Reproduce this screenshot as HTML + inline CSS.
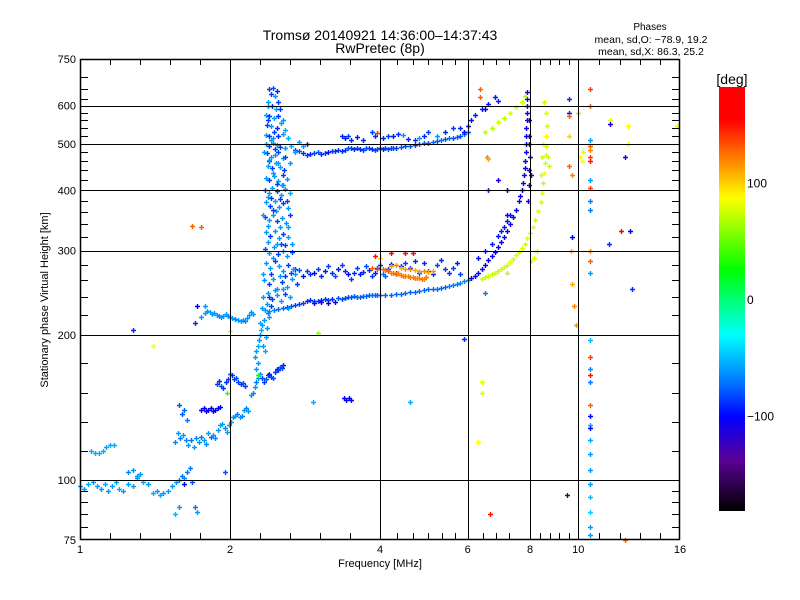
<!DOCTYPE html>
<html><head><meta charset="utf-8"><style>
html,body{margin:0;padding:0;background:#fff;}
svg{display:block;font-family:"Liberation Sans","DejaVu Sans",sans-serif;}
</style></head><body>
<svg id="chart" width="800" height="600" viewBox="0 0 800 600">
<rect x="0" y="0" width="800" height="600" fill="#fff"/>
<g id="marks"></g>
<g id="axes"></g>
<text x="380" y="40" text-anchor="middle" font-size="14">Tromsø 20140921 14:36:00–14:37:43</text>
<text x="380" y="53" text-anchor="middle" font-size="14">RwPretec (8p)</text>
<text x="650" y="30" text-anchor="middle" font-size="10">Phases</text>
<text x="651" y="43" text-anchor="middle" font-size="10.5">mean, sd,O: −78.9, 19.2</text>
<text x="651" y="55" text-anchor="middle" font-size="10.5">mean, sd,X:  86.3, 25.2</text>
<text x="380" y="567" text-anchor="middle" font-size="11">Frequency [MHz]</text>
<text transform="translate(48,300) rotate(-90)" text-anchor="middle" font-size="11">Stationary phase Virtual Height [km]</text>
<defs><linearGradient id="cbg" x1="0" y1="1" x2="0" y2="0"></linearGradient></defs>
<rect x="719" y="87" width="26" height="424" fill="url(#cbg)"/>
<text x="732" y="84" text-anchor="middle" font-size="14">[deg]</text>
<g id="cbticks"></g>
</svg>
<script>
// ---- axis data ----
const xTickLabels = [1, 2, 4, 6, 8, 10, 16];
const xGridValues = [2, 4, 6, 8, 10];
const xMinorTicks = [1.149,1.32,1.516,1.741,2.297,2.639,3.031,3.482,4.33,4.66,5.0,5.33,5.66,6.45,6.83,7.26,8.38,8.76,9.15,9.57,11.0,12.1,13.3,14.6];
const yTickLabels = [75, 100, 200, 300, 400, 500, 600, 750];
const yGridValues = [100, 200, 300, 400, 500, 600];
const yMinorTicks = [80,85,90,95,115,132,152,175,220,240,260,280,320,340,360,380,420,440,460,480,520,540,560,580,620,650,690];
const cbLabels = [100, 0, -100];

// ---- data series: [frequency MHz, virtual height km, phase deg] ----
const eLayerLow = [[1.00,97,-60],[1.02,96,-60],[1.04,98,-55],[1.06,99,-60],[1.08,97,-60],[1.10,96,-60],[1.12,98,-55],[1.14,95,-60],[1.16,97,-60],[1.18,99,-60],[1.20,96,-55],[1.22,95,-60],[1.25,98,-60],[1.28,97,-60],[1.30,101,-60],[1.32,103,-60],[1.34,99,-55],[1.37,98,-60],[1.40,94,-55],[1.43,95,-60],[1.45,93,-55],[1.47,94,-60],[1.50,95,-60],[1.53,97,-60],[1.56,99,-60],[1.58,100,-65],[1.60,102,-70],[1.62,101,-65],[1.64,104,-70],[1.66,106,-70],[1.68,99,-80],[1.70,88,-70],[1.72,86,-60],[1.05,115,-55],[1.07,114,-55],[1.09,114,-55],[1.11,115,-55],[1.13,117,-55],[1.15,118,-55],[1.17,118,-55],[1.25,104,-65],[1.28,105,-60],[1.30,102,-60]];
const eLayerRise = [[1.55,120,-65],[1.57,125,-60],[1.59,122,-70],[1.61,124,-60],[1.63,121,-65],[1.65,118,-60],[1.67,121,-70],[1.69,117,-60],[1.71,122,-65],[1.73,120,-60],[1.75,123,-70],[1.77,121,-60],[1.79,119,-65],[1.81,125,-60],[1.83,123,-75],[1.85,124,-60],[1.87,122,-65],[1.89,127,-60],[1.91,130,-55],[1.93,131,-60],[1.95,128,-65],[1.97,126,-60],[1.99,130,-55],[2.01,132,-60],[2.03,135,-65],[2.05,136,-60],[2.07,137,-70],[2.09,135,-60],[2.11,136,-65],[2.13,140,-60],[2.15,141,-65],[2.17,139,-60],[1.75,140,-105],[1.77,141,-105],[1.79,139,-100],[1.81,140,-105],[1.83,141,-100],[1.85,139,-105],[1.87,140,-100],[1.89,141,-105],[1.91,142,-100],[1.60,137,-80],[1.62,140,-75],[1.64,133,-70],[1.58,143,-80],[1.88,158,-85],[1.90,161,-90],[1.92,157,-80],[1.94,155,-85],[1.96,160,-90],[1.98,162,-85],[2.00,166,-80],[2.02,165,-90],[2.04,162,-85],[2.06,163,-80],[2.08,160,-85],[2.10,158,-90],[2.12,159,-80],[2.14,157,-85],[2.20,150,-60],[2.22,152,-65],[2.24,156,-60],[2.26,160,-70],[2.28,163,-60],[2.30,166,-65],[2.32,163,-85],[2.34,160,-85],[2.36,162,-80],[2.38,165,-85],[2.40,166,-90],[2.42,164,-85],[2.44,163,-80],[2.46,168,-85],[2.48,170,-90],[2.50,169,-85],[2.52,172,-80],[2.54,171,-85],[2.56,173,-90],[2.25,180,-60],[2.26,185,-60],[2.28,190,-55],[2.29,195,-60],[2.30,200,-60],[2.31,205,-55],[2.32,210,-60],[2.33,190,-60],[2.35,185,-55],[2.36,198,-60],[2.37,207,-60],[2.34,215,-60],[2.38,222,-70],[2.40,218,-60],[2.28,175,-60],[2.30,212,-55],[2.26,170,-60],[3.38,148,-100],[3.42,147,-100],[3.46,148,-105],[3.50,147,-100]];
const strayLow = [[2.93,145,-55],[4.6,145,-55],[1.28,205,-90],[1.40,190,85],[2.0,204,95],[3.0,202,60],[1.68,338,130],[1.75,335,130],[2.28,165,30],[1.97,152,40],[1.95,104,-80],[1.58,88,-60],[1.55,85,-50],[1.62,98,-100]];
const fLowerTrace = [[1.75,218,-60],[1.78,222,-60],[1.80,225,-60],[1.82,223,-55],[1.84,221,-60],[1.86,222,-60],[1.88,220,-60],[1.90,219,-65],[1.92,218,-60],[1.94,219,-60],[1.96,221,-60],[1.98,219,-65],[2.00,218,-60],[2.02,217,-60],[2.05,216,-65],[2.08,215,-60],[2.10,214,-60],[2.12,215,-60],[2.14,214,-65],[2.16,217,-60],[2.18,220,-60],[2.20,223,-60],[2.22,221,-60],[1.70,212,-90],[1.72,230,-100],[1.78,230,-60],[2.35,226,-60],[2.40,225,-65],[2.45,226,-70],[2.50,227,-75],[2.55,228,-75],[2.60,229,-80],[2.65,230,-80],[2.70,231,-85],[2.75,232,-85],[2.80,233,-85],[2.85,236,-90],[2.90,237,-90],[2.95,236,-85],[3.00,236,-85],[3.05,237,-90],[3.10,238,-85],[3.15,237,-85],[3.20,238,-90],[3.30,239,-80],[3.35,238,-80],[3.40,239,-80],[3.45,240,-80],[3.50,240,-80],[3.55,241,-75],[3.60,240,-75],[3.65,240,-75],[3.70,241,-75],[3.75,241,-75],[3.80,242,-75],[3.85,242,-75],[3.90,242,-75],[3.95,242,-75],[4.00,243,-75],[4.10,243,-75],[4.20,243,-75],[4.30,244,-75],[4.40,244,-75],[4.50,245,-75],[4.60,246,-75],[4.70,246,-75],[4.80,247,-75],[4.90,248,-75],[5.00,249,-75],[5.10,249,-75],[5.20,250,-75],[5.30,251,-75],[5.40,252,-75],[5.50,253,-70],[5.60,254,-70],[5.70,256,-70],[5.80,257,-65],[5.90,259,-65],[6.00,261,-65],[2.95,233,-105],[3.05,234,-105],[3.15,233,-105],[3.25,234,-105]];
const fUpperScatter = [[2.65,270,-85],[2.70,275,-90],[2.75,273,-80],[2.80,266,-95],[2.85,272,-85],[2.90,268,-90],[2.95,270,-100],[3.00,275,-85],[3.05,265,-90],[3.10,272,-95],[3.15,278,-85],[3.20,270,-90],[3.25,266,-80],[3.30,275,-95],[3.35,280,-85],[3.40,272,-90],[3.45,268,-100],[3.50,262,-85],[3.55,270,-90],[3.60,276,-85],[3.65,268,-95],[3.70,271,-90],[3.75,278,-80],[3.80,273,-90],[3.85,265,-85],[3.90,270,-95],[3.95,276,-85],[4.00,280,-90],[4.05,268,-70],[4.10,266,-75],[4.15,274,-85],[4.20,281,-90],[4.30,270,-80],[4.40,278,-90],[4.50,283,-85],[4.60,276,-95],[4.70,285,-90],[4.80,270,-80],[4.90,282,-90],[5.00,272,-85],[5.10,268,-90],[5.20,280,-85],[5.30,286,-90],[5.40,275,-85],[5.50,270,-90],[5.60,276,-85],[5.70,282,-95],[5.80,268,-85]];
const orangeSegment = [[3.85,276,130],[3.95,274,135],[4.05,274,130],[4.10,273,125],[4.15,272,130],[4.20,270,120],[4.25,270,125],[4.30,268,130],[4.35,269,120],[4.40,267,125],[4.45,266,120],[4.50,266,125],[4.55,265,120],[4.60,264,125],[4.65,264,120],[4.70,263,125],[4.75,263,120],[4.80,263,120],[4.85,262,125],[4.90,262,120],[4.95,264,125],[4.20,278,115],[4.30,280,120],[4.40,276,110],[4.50,275,115],[4.60,274,120],[4.70,273,110],[4.80,272,115],[4.90,272,120],[5.00,271,110],[5.10,272,115],[4.2,297,155],[4.5,297,155],[4.65,297,155],[3.9,292,150],[4.0,290,100]];
const fTopTrace = [[2.70,485,-85],[2.75,482,-80],[2.80,478,-90],[2.85,475,-85],[2.90,476,-90],[2.95,478,-85],[3.00,480,-80],[3.05,476,-90],[3.10,478,-85],[3.15,481,-95],[3.20,482,-85],[3.25,484,-90],[3.30,485,-85],[3.35,483,-90],[3.40,486,-85],[3.45,490,-80],[3.50,489,-85],[3.55,487,-90],[3.60,490,-85],[3.65,488,-90],[3.70,486,-85],[3.75,489,-80],[3.80,491,-85],[3.85,487,-90],[3.90,486,-85],[3.95,488,-80],[4.00,490,-85],[4.05,487,-90],[4.10,489,-85],[4.15,488,-80],[4.20,490,-85],[4.25,491,-80],[4.30,489,-85],[4.40,492,-80],[4.50,494,-85],[4.60,495,-80],[4.70,497,-85],[4.80,499,-80],[4.90,501,-75],[5.00,503,-80],[5.10,505,-75],[5.20,507,-80],[5.30,509,-75],[5.40,511,-80],[5.50,513,-75],[5.60,515,-80],[5.70,517,-75],[5.80,520,-80],[5.90,523,-75],[6.00,528,-80],[3.35,520,-90],[3.40,515,-95],[3.45,518,-85],[3.50,510,-90],[3.60,516,-95],[3.70,510,-90],[3.85,530,-85],[3.90,520,-90],[3.95,527,140],[4.05,515,-90],[4.15,520,-85],[4.25,518,-95],[4.35,525,-90],[4.45,522,-60],[4.55,512,-90],[4.70,510,-85],[4.80,515,-60],[4.90,520,-90],[5.00,528,-85],[5.20,520,-60],[5.40,530,-90],[5.60,538,-85],[5.80,540,-90],[5.90,528,140],[2.75,505,-60],[2.80,495,-60],[2.85,500,-90]];
const fCusp = [[2.40,650,-85],[2.44,652,-80],[2.48,645,-90],[2.42,635,-85],[2.46,630,-60],[2.38,600,-60],[2.43,598,-85],[2.47,590,-60],[2.52,592,-85],[2.36,575,-60],[2.40,570,-85],[2.45,565,-60],[2.50,572,-90],[2.55,560,-60],[2.37,548,-85],[2.42,545,-60],[2.48,540,-90],[2.53,552,-60],[2.58,535,-55],[2.36,522,-60],[2.40,518,-85],[2.44,515,-60],[2.50,520,-90],[2.55,525,-60],[2.62,515,-55],[2.36,500,-60],[2.40,495,-85],[2.44,502,-60],[2.48,498,-60],[2.52,492,-85],[2.58,490,-60],[2.65,495,-55],[2.37,478,-85],[2.42,470,-60],[2.46,474,-60],[2.50,480,-85],[2.55,468,-60],[2.38,450,-60],[2.43,445,-85],[2.47,455,-60],[2.52,448,-60],[2.57,440,-85],[2.36,425,-60],[2.40,420,-85],[2.45,428,-60],[2.50,418,-60],[2.55,430,-85],[2.60,422,-60],[2.35,400,-85],[2.39,395,-60],[2.43,405,-60],[2.48,398,-85],[2.53,392,-60],[2.58,402,-60],[2.64,395,-55],[2.36,378,-60],[2.41,372,-85],[2.46,380,-60],[2.51,370,-60],[2.56,376,-85],[2.61,368,-60],[2.35,352,-85],[2.40,348,-60],[2.44,355,-60],[2.49,345,-85],[2.54,350,-60],[2.59,342,-60],[2.64,355,-85],[2.36,328,-60],[2.41,322,-85],[2.46,330,-60],[2.51,318,-60],[2.56,325,-85],[2.61,320,-60],[2.35,302,-85],[2.40,296,-60],[2.45,305,-60],[2.50,295,-85],[2.55,300,-60],[2.60,292,-60],[2.66,298,-85],[2.36,282,-60],[2.41,276,-60],[2.46,285,-85],[2.51,278,-60],[2.56,272,-60],[2.62,280,-85],[2.68,275,-60],[2.34,260,-60],[2.39,255,-85],[2.44,262,-60],[2.49,250,-60],[2.54,258,-85],[2.60,252,-60],[2.66,262,-60],[2.72,255,-85],[2.33,240,-60],[2.38,245,-60],[2.43,238,-85],[2.48,242,-60],[2.53,236,-60],[2.58,244,-85],[2.32,228,-60],[2.37,232,-60],[2.42,230,-85],[2.38,610,-60],[2.50,610,-85],[2.45,530,-85],[2.39,460,-85],[2.54,410,-60],[2.42,385,-85],[2.47,362,-60],[2.38,338,-60],[2.53,310,-85],[2.44,290,-60],[2.58,266,-85],[2.62,228,-60],[2.33,268,-60],[2.33,355,-60],[2.34,480,-60],[2.70,480,-60],[2.64,455,-60],[2.38,560,-85],[2.42,508,-60],[2.46,488,-85],[2.40,462,-60],[2.44,435,-60],[2.48,412,-85],[2.38,388,-60],[2.52,384,-85],[2.44,365,-85],[2.52,336,-60],[2.38,312,-60],[2.48,310,-60],[2.58,308,-85],[2.42,268,-85],[2.52,265,-60],[2.46,248,-60],[2.56,250,-60],[2.40,240,-85],[2.64,240,-60],[2.58,470,-85],[2.60,380,-85],[2.62,335,-60],[2.66,310,-60],[2.70,268,-60],[2.56,410,-60],[2.50,455,-60]];
const oModeTrace = [[6.10,263,-105],[6.20,266,-105],[6.30,270,-105],[6.40,275,-105],[6.50,280,-105],[6.60,286,-105],[6.70,292,-105],[6.80,298,-105],[6.90,305,-105],[7.00,312,-105],[7.10,320,-105],[7.20,330,-105],[7.30,340,-105],[7.40,352,-105],[7.50,365,-105],[7.60,380,-105],[7.65,390,-105],[7.70,400,-105],[7.75,415,-105],[7.78,430,-105],[7.80,445,-105],[7.82,460,-105],[7.84,480,-105],[7.85,500,-105],[7.86,520,-105],[7.87,540,-105],[7.88,560,-105],[7.88,580,-105],[7.89,600,-105],[7.90,620,-105],[7.90,640,-105],[7.95,410,-110],[7.98,440,-110],[8.00,470,-110],[7.95,520,-110],[7.98,500,-110],[8.02,430,-110],[7.92,380,-110],[7.97,560,-110],[6.3,290,-95],[6.5,300,-95],[6.7,310,-95],[6.9,322,-95],[7.1,335,-95],[7.2,345,-95],[7.3,355,-95],[7.0,330,-95]];
const xModeTrace = [[6.40,262,75],[6.50,264,75],[6.60,266,75],[6.70,268,75],[6.80,270,75],[6.90,272,75],[7.00,274,75],[7.10,277,75],[7.20,280,75],[7.30,284,80],[7.40,288,75],[7.50,293,80],[7.60,298,75],[7.70,304,80],[7.80,310,75],[7.90,318,80],[8.00,326,75],[8.10,336,80],[8.20,348,75],[8.30,362,80],[8.40,378,75],[8.45,395,80],[8.50,415,75],[8.55,435,85],[8.58,455,75],[8.60,475,80],[8.62,495,75],[8.63,520,85],[8.64,545,75],[8.60,580,80],[8.55,610,75],[8.70,470,80],[8.72,450,75],[8.50,500,85],[8.45,470,75],[8.40,430,80],[8.25,300,75],[8.15,290,80],[8.05,285,75],[7.2,270,70]];
const multiHop = [[5.9,530,-95],[6.0,545,-95],[6.1,560,-95],[6.2,575,-95],[6.4,590,-95],[6.6,605,-95],[6.8,625,-95],[6.9,615,-95],[6.5,530,70],[6.7,540,70],[6.9,555,75],[7.1,565,70],[7.3,580,75],[7.5,595,70],[7.7,610,75],[7.8,630,70]];
const column10 = [[10.55,650,140],[10.55,600,130],[10.55,510,-60],[10.55,495,130],[10.55,485,120],[10.55,470,140],[10.55,460,150],[10.55,420,-60],[10.55,405,140],[10.55,380,-70],[10.55,365,-70],[10.55,300,120],[10.55,285,130],[10.55,270,-60],[10.55,195,-50],[10.55,180,140],[10.55,170,-65],[10.55,165,150],[10.55,160,-70],[10.55,143,130],[10.55,136,-100],[10.55,130,-55],[10.55,128,-100],[10.55,121,-55],[10.55,113,-60],[10.55,105,-60],[10.55,98,-60],[10.55,92,-50],[10.55,86,-45],[10.55,80,-60],[10.55,77,-60]];
const strayHigh = [[9.6,520,100],[9.6,450,130],[9.7,430,120],[9.65,300,110],[9.7,255,110],[9.8,230,120],[9.9,210,115],[10.0,580,60],[10.2,480,80],[10.1,470,90],[10.15,460,85],[11.6,560,80],[11.6,550,-110],[12.6,545,90],[12.6,500,90],[12.4,470,-110],[12.2,330,155],[12.7,330,-100],[12.8,250,-90],[11.5,310,-90],[15.8,545,90],[12.4,75,130],[9.7,320,-100],[6.55,470,120],[6.6,465,110],[6.6,400,-90],[6.5,245,-70],[6.4,160,80],[6.4,152,80],[6.3,120,90],[6.65,85,150],[5.9,196,-90],[7.2,400,-110],[7.2,355,-110],[6.9,420,-110],[6.35,650,130],[6.35,625,130],[6.5,590,-100],[9.6,620,-90],[9.6,580,-95],[9.6,570,130],[9.5,93,-150]];

// ---- scales ----
const PX0 = 80, PX1 = 680, PY0 = 59, PY1 = 539;
function xScale(f){ return PX0 + Math.log2(f) * 150; }
function yScale(h){ return 480 - 481 * Math.log10(h / 100); }
function cbScale(d){ return 300 - d * 1.165; }
const cStops = [[-181,[0,0,0]],[-137,[90,0,150]],[-100,[0,0,255]],[-70,[0,120,255]],[-30,[0,255,255]],[26,[0,255,0]],[88,[255,255,0]],[155,[255,0,0]],[183,[255,0,0]]];
function phaseColor(d){
  if(d<=cStops[0][0]) return 'rgb(0,0,0)';
  for(let i=1;i<cStops.length;i++){
    if(d<=cStops[i][0]){
      const a=cStops[i-1], b=cStops[i], t=(d-a[0])/(b[0]-a[0]);
      const c=a[1].map((v,k)=>Math.round(v+(b[1][k]-v)*t));
      return 'rgb('+c.join(',')+')';
    }
  }
  return 'rgb(255,0,0)';
}
const NS='http://www.w3.org/2000/svg';
function mk(tag, attrs, parent){ const e=document.createElementNS(NS,tag); for(const k in attrs) e.setAttribute(k,attrs[k]); parent.appendChild(e); return e; }

// ---- marks ----
const marks = document.getElementById('marks');
const seriesList = [['e-layer-low',eLayerLow],['e-layer-rise',eLayerRise],['stray-low',strayLow],['f-lower-trace',fLowerTrace],['f-upper-scatter',fUpperScatter],['orange-segment',orangeSegment],['f-top-trace',fTopTrace],['f-cusp',fCusp],['o-mode-trace',oModeTrace],['x-mode-trace',xModeTrace],['multi-hop',multiHop],['column-10mhz',column10],['stray-high',strayHigh]];
seriesList.forEach(([name, pts])=>{
  const g = mk('g', {}, marks);
  
  
  pts.forEach(p=>{
    const x=Math.round(xScale(p[0])), y=Math.round(yScale(p[1]));
    const path = mk('path', {d:'M'+(x-2)+' '+(y+0.5)+'h5M'+(x+0.5)+' '+(y-2)+'v5', stroke:phaseColor(p[2]), 'stroke-width':1.4, fill:'none'}, g);
    
    
  });
});

// ---- axes ----
const axes = document.getElementById('axes');
xGridValues.forEach(v=>{
  const x=Math.round(xScale(v))+0.5;
  const l=mk('line',{x1:x,y1:PY0,x2:x,y2:PY1,stroke:'#000','stroke-width':1},axes);
  
  
});
yGridValues.forEach(v=>{
  const y=Math.round(yScale(v))+0.5;
  const l=mk('line',{x1:PX0,y1:y,x2:PX1,y2:y,stroke:'#000','stroke-width':1},axes);
  
  
});
xMinorTicks.forEach(v=>{
  const x=Math.round(xScale(v))+0.5;
  const t1=mk('line',{x1:x,y1:PY0,x2:x,y2:PY0+6,stroke:'#000'},axes);
  
  
  const t2=mk('line',{x1:x,y1:PY1,x2:x,y2:PY1-6,stroke:'#000'},axes);
  
  
});
yMinorTicks.forEach(v=>{
  const y=Math.round(yScale(v))+0.5;
  const t1=mk('line',{x1:PX0,y1:y,x2:PX0+8,y2:y,stroke:'#000'},axes);
  
  
  const t2=mk('line',{x1:PX1,y1:y,x2:PX1-8,y2:y,stroke:'#000'},axes);
  
  
});
const frame=mk('rect',{x:PX0+0.5,y:PY0+0.5,width:PX1-PX0-1,height:PY1-PY0,fill:'none',stroke:'#000','stroke-width':1.5},axes);


xTickLabels.forEach(v=>{
  const t=mk('text',{x:xScale(v),y:553,'text-anchor':'middle','font-size':11},axes);
  t.textContent=String(v);
  
  
});
yTickLabels.forEach(v=>{
  const t=mk('text',{x:76,y:yScale(v)+4,'text-anchor':'end','font-size':11},axes);
  t.textContent=String(v);
  
  
});

// ---- colorbar ----
const grad=document.getElementById('cbg');
for(let d=-181; d<=183; d+=4){
  mk('stop',{offset:((d+181)/364).toFixed(4),'stop-color':phaseColor(d)},grad);
}
const cbt=document.getElementById('cbticks');
cbLabels.forEach(v=>{
  const t=mk('text',{x:747,y:cbScale(v)+4,'font-size':12},cbt);
  t.textContent=v<0?'−'+Math.abs(v):String(v);
  
  
});
</script>
</body></html>
